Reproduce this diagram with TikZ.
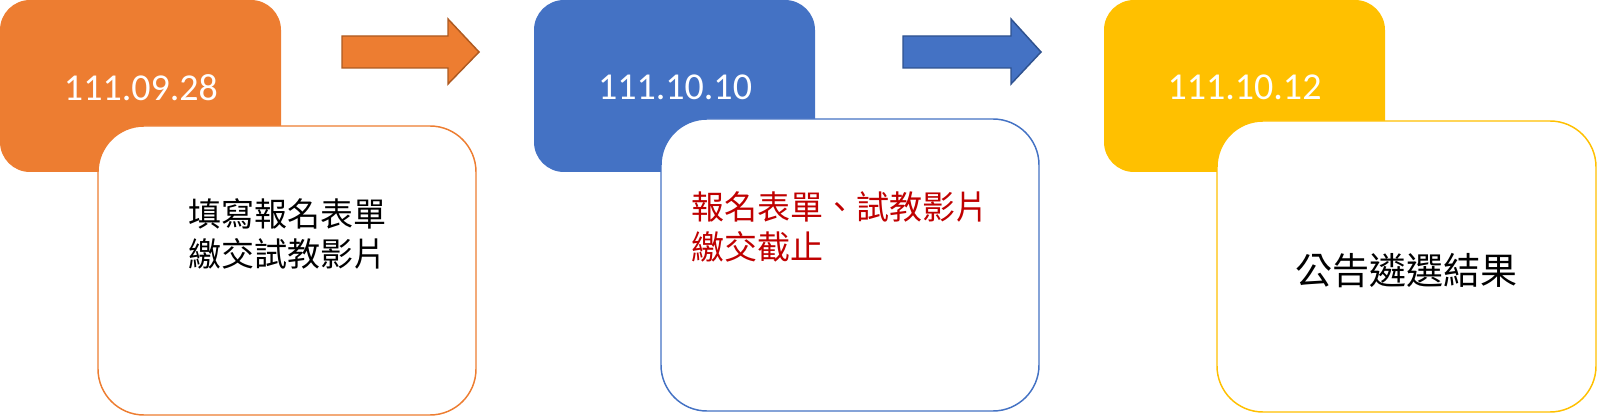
\documentclass[tikz,border=0pt]{standalone}
\usepackage{fontspec}
\setmainfont{Carlito}
\newfontfamily\cjk{Noto Sans CJK TC}
\definecolor{cOrange}{HTML}{ED7D31}
\definecolor{cOrangeD}{HTML}{AE5A21}
\definecolor{cBlue}{HTML}{4472C4}
\definecolor{cBlueD}{HTML}{2F528F}
\definecolor{cYellow}{HTML}{FFC000}
\definecolor{cRed}{HTML}{C00000}
\begin{document}
\begin{tikzpicture}[x=0.75pt,y=-0.75pt,
  datebox/.style={rectangle, rounded corners=22.5pt, draw=none, minimum width=210.75pt, minimum height=129pt, inner sep=0pt},
  datetext/.style={text=white, font=\fontsize{28.5}{34}\selectfont, inner sep=0pt},
  whitebox/.style={rectangle, rounded corners=34.5pt, fill=white, line width=1.1pt, minimum width=283.5pt, minimum height=218pt, inner sep=0pt},
  bodytext/.style={font=\cjk\fontsize{24.75}{30}\selectfont, align=left, inner sep=0pt, anchor=base west},
  blockarrow/.style={line width=1.1pt, line join=miter}]
\useasboundingbox (0,0) rectangle (1597,417);
% stage 1
\node[datebox, fill=cOrange] (d1) at (140.5,86) {};
\node[datetext] (d1t) at (141,87.5) {111.09.28};
\node[whitebox, draw=cOrange, minimum height=216.75pt] (w1) at (287,270.5) {};
\node[bodytext] (t1) at (188,267) {填寫報名表單\\繳交試教影片};
% arrow 1
\draw[blockarrow, fill=cOrange, draw=cOrangeD] (342,36) -- (448,36) -- (448,19) -- (479,52) -- (448,84) -- (448,68) -- (342,68) -- cycle;
% stage 2
\node[datebox, fill=cBlue] (d2) at (674.5,86) {};
\node[datetext] (d2t) at (675,87.5) {111.10.10};
\node[whitebox, draw=cBlue, minimum height=219pt] (w2) at (850,265) {};
\node[bodytext, text=cRed] (t2) at (691,260) {報名表單、試教影片\\繳交截止};
% arrow 2
\draw[blockarrow, fill=cBlue, draw=cBlueD] (903,36) -- (1011,36) -- (1011,19) -- (1041,52) -- (1011,84) -- (1011,68) -- (903,68) -- cycle;
% stage 3
\node[datebox, fill=cYellow] (d3) at (1244.5,86) {};
\node[datetext] (d3t) at (1244.5,87.5) {111.10.12};
\node[whitebox, draw=cYellow, minimum width=284.25pt, minimum height=218.25pt] (w3) at (1406.5,266.5) {};
\node[bodytext, font=\cjk\fontsize{27.75}{32}\selectfont] (t3) at (1295.5,284.5) {公告遴選結果};
\end{tikzpicture}
\end{document}
